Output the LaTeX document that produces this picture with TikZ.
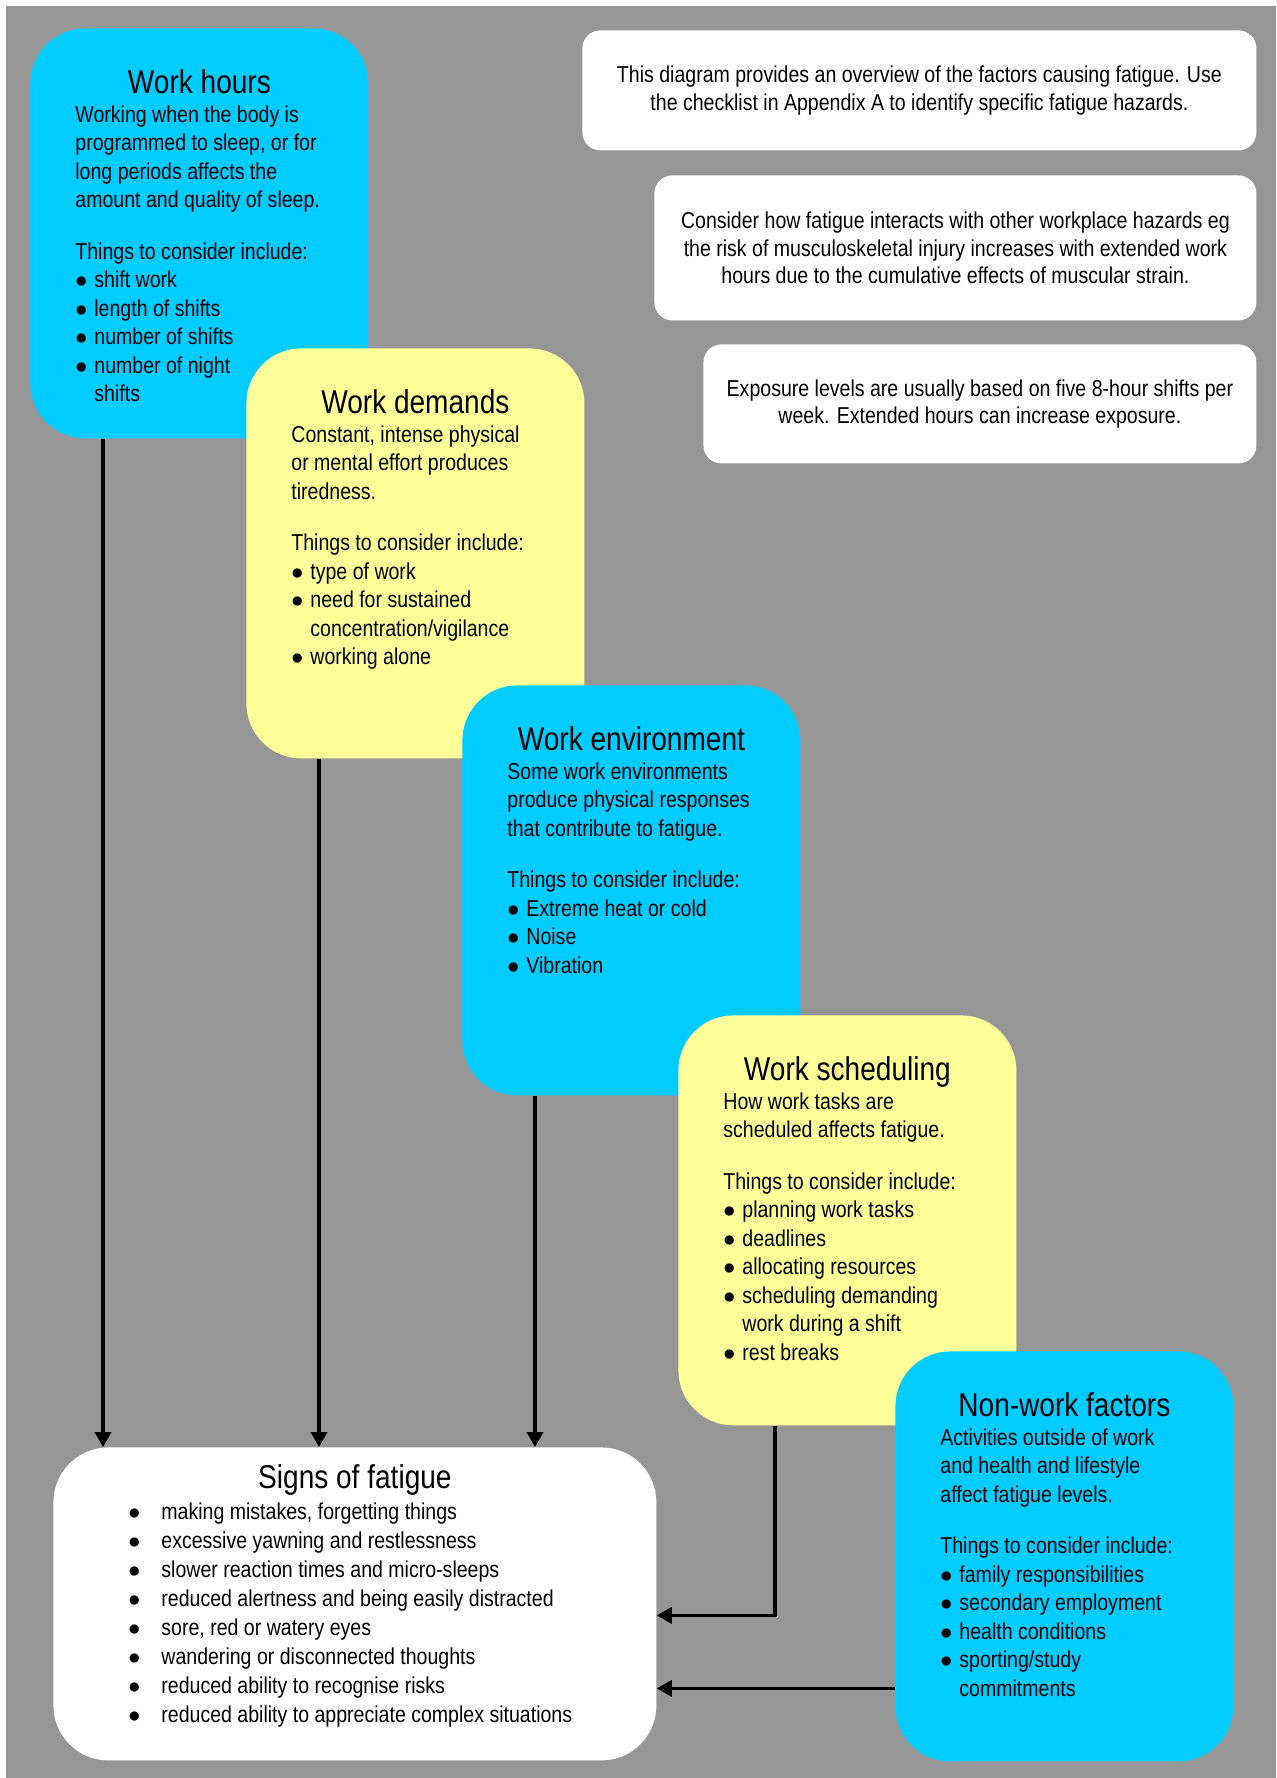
\documentclass[tikz,border=0pt]{standalone}
\usepackage{fontspec}
\setmainfont{Liberation Sans}[FakeStretch=0.85]
\usetikzlibrary{arrows.meta}
\definecolor{skyblue}{RGB}{0,204,255}
\definecolor{paleyellow}{RGB}{255,255,153}
\definecolor{bggray}{RGB}{150,150,150}
\newcommand{\bul}{\makebox[9.5pt][l]{$\bullet$}}
\newcommand{\ind}{\hspace*{9.5pt}}
\newcommand{\sbul}{\makebox[16.5pt][l]{$\bullet$}}
\begin{document}
\begin{tikzpicture}[x=0.5pt,y=-0.5pt,
  factor/.style={rectangle,rounded corners=27.5pt,anchor=north west,inner sep=0pt,minimum width=169pt,minimum height=205pt},
  bluebox/.style={factor,fill=skyblue},
  yellowbox/.style={factor,fill=paleyellow},
  head/.style={anchor=base,inner sep=0pt,font=\fontsize{16.5}{20}\selectfont},
  body/.style={anchor=base west,inner sep=0pt,text width=150pt,align=left,font=\fontsize{11.5}{14.25}\selectfont,
    execute at begin node={\spaceskip=0pt \xspaceskip=0pt}},
  note/.style={rectangle,rounded corners=9pt,fill=white,anchor=north west,inner sep=0pt,align=center,font=\fontsize{11.5}{13.75}\selectfont},
  link/.style={line width=1.75pt,-{Triangle[length=7.5pt,width=8pt]}}]
\useasboundingbox (0,0) rectangle (1276,1778);
\fill[white] (0,0) rectangle (1276,1778);
\fill[bggray] (6,6) rectangle (1276,1778);

\node[note,minimum width=337pt,minimum height=60pt] (note1) at (582,30)
  {This diagram provides an overview of the factors causing fatigue. Use\\the checklist in Appendix A to identify specific fatigue hazards.};
\node[note,minimum width=301pt,minimum height=72.5pt] (note2) at (654,175)
  {Consider how fatigue interacts with other workplace hazards eg\\the risk of musculoskeletal injury increases with extended work\\hours due to the cumulative effects of muscular strain.};
\node[note,minimum width=276.5pt,minimum height=59.5pt] (note3) at (703,344)
  {Exposure levels are usually based on five 8-hour shifts per\\week. Extended hours can increase exposure.};

\node[bluebox] (hours) at (30,28) {};
\node[head] (hourshead) at ([yshift=-32.5pt]hours.north) {Work hours};
\node[body] (hoursbody) at ([xshift=22.5pt,yshift=-47pt]hours.north west)
  {Working when the body is\\programmed to sleep, or for\\long periods affects the\\amount and quality of sleep.\\[11.5pt]
   Things to consider include:\\\bul shift work\\\bul length of shifts\\\bul number of shifts\\\bul number of night\\\ind shifts};

\node[yellowbox] (demands) at (246,348) {};
\node[head] (demandshead) at ([yshift=-32.5pt]demands.north) {Work demands};
\node[body] (demandsbody) at ([xshift=22.5pt,yshift=-47pt]demands.north west)
  {Constant, intense physical\\or mental effort produces\\tiredness.\\[11.5pt]
   Things to consider include:\\\bul type of work\\\bul need for sustained\\\ind concentration/vigilance\\\bul working alone};

\node[bluebox] (env) at (462,685) {};
\node[head] (envhead) at ([yshift=-32.5pt]env.north) {Work environment};
\node[body] (envbody) at ([xshift=22.5pt,yshift=-47pt]env.north west)
  {Some work environments\\produce physical responses\\that contribute to fatigue.\\[11.5pt]
   Things to consider include:\\\bul Extreme heat or cold\\\bul Noise\\\bul Vibration};

\node[yellowbox] (sched) at (678,1015) {};
\node[head] (schedhead) at ([yshift=-32.5pt]sched.north) {Work scheduling};
\node[body] (schedbody) at ([xshift=22.5pt,yshift=-47pt]sched.north west)
  {How work tasks are\\scheduled affects fatigue.\\[11.5pt]
   Things to consider include:\\\bul planning work tasks\\\bul deadlines\\\bul allocating resources\\\bul scheduling demanding\\\ind work during a shift\\\bul rest breaks};

\node[bluebox] (nonwork) at (895,1351) {};
\node[head] (nonworkhead) at ([yshift=-32.5pt]nonwork.north) {Non-work factors};
\node[body] (nonworkbody) at ([xshift=22.5pt,yshift=-47pt]nonwork.north west)
  {Activities outside of work\\and health and lifestyle\\affect fatigue levels.\\[11.5pt]
   Things to consider include:\\\bul family responsibilities\\\bul secondary employment\\\bul health conditions\\\bul sporting/study\\\ind commitments};

\node[factor,fill=white,minimum width=301.5pt,minimum height=156.5pt] (signs) at (53,1447) {};
\node[head] (signshead) at ([yshift=-20.5pt]signs.north) {Signs of fatigue};
\node[body,text width=260pt,font=\fontsize{11.5}{14.5}\selectfont] (signsbody) at ([xshift=37.5pt,yshift=-36pt]signs.north west)
  {\sbul making mistakes, forgetting things\\\sbul excessive yawning and restlessness\\\sbul slower reaction times and micro-sleeps\\\sbul reduced alertness and being easily distracted\\
   \sbul sore, red or watery eyes\\\sbul wandering or disconnected thoughts\\\sbul reduced ability to recognise risks\\\sbul reduced ability to appreciate complex situations};

\coordinate (hoursout) at ([xshift=36.5pt]hours.south west);
\coordinate (demandsout) at ([xshift=36.5pt]demands.south west);
\coordinate (envout) at ([xshift=36.5pt]env.south west);
\coordinate (schedout) at ([xshift=48.5pt]sched.south west);
\coordinate (signsin1) at ([yshift=-5.75pt]signs.east);
\coordinate (signsin2) at ([yshift=-42.25pt]signs.east);
\draw[link] (hoursout) -- (hoursout |- signs.north);
\draw[link] (demandsout) -- (demandsout |- signs.north);
\draw[link] (envout) -- (envout |- signs.north);
\draw[link] (schedout) |- (signsin1);
\draw[link] (nonwork.west |- signsin2) -- (signsin2);
\end{tikzpicture}
\end{document}
